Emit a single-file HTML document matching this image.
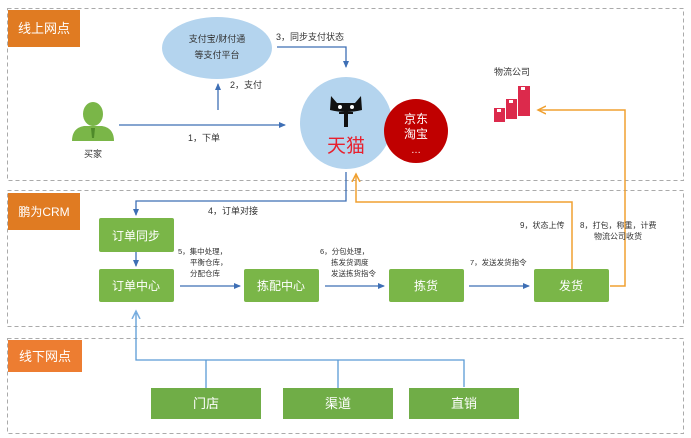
<!DOCTYPE html>
<html><head><meta charset="utf-8"><style>
html,body{margin:0;padding:0;background:#fff;}
svg{display:block;font-family:"Liberation Sans","Noto Sans CJK SC",sans-serif;}
</style></head><body>
<svg width="691" height="438" viewBox="0 0 691 438" xmlns="http://www.w3.org/2000/svg">
<defs>
<marker id="ab" markerWidth="8" markerHeight="8" refX="6" refY="4" orient="auto" markerUnits="userSpaceOnUse"><path d="M0,1 L7,4 L0,7 Z" fill="#3e6fb5"/></marker>
<marker id="ao" markerWidth="10" markerHeight="10" refX="8" refY="5" orient="auto" markerUnits="userSpaceOnUse"><path d="M0,1 L8,5 L0,9" fill="none" stroke="#f0a030" stroke-width="1.5"/></marker>
<marker id="al" markerWidth="10" markerHeight="10" refX="8" refY="5" orient="auto" markerUnits="userSpaceOnUse"><path d="M0,1 L8,5 L0,9" fill="none" stroke="#7aaee0" stroke-width="1.5"/></marker>
</defs>
<g fill="none" stroke="#aaa" stroke-dasharray="4,3" stroke-width="1">
<rect x="7.5" y="8.5" width="676" height="172"/>
<rect x="7.5" y="190.5" width="676" height="136"/>
<rect x="7.5" y="338.5" width="676" height="95"/>
</g>
<rect x="8" y="10" width="72" height="37" fill="#e07b22"/>
<text x="44" y="33" fill="#fff" font-size="13" text-anchor="middle">线上网点</text>
<rect x="8" y="193" width="72" height="37" fill="#e07b22"/>
<text x="44" y="216" fill="#fff" font-size="12" text-anchor="middle">鹏为CRM</text>
<rect x="8" y="340" width="74" height="32" fill="#ed7d31"/>
<text x="45" y="361" fill="#fff" font-size="13" text-anchor="middle">线下网点</text>

<ellipse cx="217" cy="48" rx="55" ry="31" fill="#b4d4ee"/>
<text x="217" y="42" font-size="9" fill="#333" text-anchor="middle">支付宝/财付通</text>
<text x="217" y="58" font-size="9" fill="#333" text-anchor="middle">等支付平台</text>

<g fill="#7ab648">
<ellipse cx="93" cy="114" rx="10" ry="12"/>
<path d="M72,141 Q72,128 84,126 L102,126 Q114,128 114,141 Z"/>
</g>
<path d="M91,128 L95,128 L94,138 L92,138 Z" fill="#4f8a2a"/>
<text x="93" y="157" font-size="9" fill="#333" text-anchor="middle">买家</text>

<g stroke="#3e6fb5" stroke-width="1.3" fill="none">
<line x1="119" y1="125" x2="285" y2="125" marker-end="url(#ab)"/>
<line x1="218" y1="110" x2="218" y2="84" marker-end="url(#ab)"/>
<polyline points="277,47 346,47 346,67" marker-end="url(#ab)"/>
<polyline points="346,172 346,201 136,201 136,215" marker-end="url(#ab)"/>
<line x1="136" y1="252" x2="136" y2="266" marker-end="url(#ab)"/>
<line x1="180" y1="286" x2="240" y2="286" marker-end="url(#ab)"/>
<line x1="325" y1="286" x2="384" y2="286" marker-end="url(#ab)"/>
<line x1="469" y1="286" x2="529" y2="286" marker-end="url(#ab)"/>
</g>
<text x="188" y="141" font-size="9" fill="#333">1，下单</text>
<text x="230" y="88" font-size="9" fill="#333">2，支付</text>
<text x="276" y="40" font-size="9" fill="#333">3，同步支付状态</text>
<text x="208" y="214" font-size="9" fill="#333">4，订单对接</text>

<circle cx="346" cy="123" r="46" fill="#b4d4ee"/>
<g fill="#111">
<path d="M331,96 L337,103 L355,103 L361,96 L362,110 Q346,114 330,110 Z"/>
<rect x="344" y="111" width="4" height="16"/>
<rect x="339" y="112" width="14" height="2"/>
</g>
<g fill="#fff"><circle cx="340" cy="107" r="2"/><circle cx="352" cy="107" r="2"/></g>
<text x="346" y="152" font-size="19" fill="#e8202e" text-anchor="middle">天猫</text>
<circle cx="416" cy="131" r="32" fill="#c00000"/>
<text x="416" y="123" font-size="12" fill="#fff" text-anchor="middle">京东</text>
<text x="416" y="138" font-size="12" fill="#fff" text-anchor="middle">淘宝</text>
<text x="416" y="153" font-size="10" fill="#fff" text-anchor="middle">…</text>

<text x="512" y="75" font-size="9" fill="#333" text-anchor="middle">物流公司</text>
<g fill="#dc2a4c">
<rect x="494" y="108" width="11" height="14"/>
<rect x="506" y="99" width="11" height="20"/>
<rect x="518" y="86" width="12" height="30"/>
</g>
<g fill="#fff"><rect x="497" y="109" width="4" height="3"/><rect x="509" y="100" width="4" height="3"/><rect x="521" y="87" width="4" height="3"/></g>

<g stroke="#f0a030" stroke-width="1.5" fill="none">
<polyline points="610,286 625,286 625,110 538,110" marker-end="url(#ao)"/>
<polyline points="572,270 572,202 356,202 356,174" marker-end="url(#ao)"/>
</g>
<text x="520" y="228" font-size="8" fill="#333">9，状态上传</text>
<text x="580" y="228" font-size="8" fill="#333">8，打包，称重，计费</text>
<text x="594" y="239" font-size="8" fill="#333">物流公司收货</text>

<g font-size="7.5" fill="#333">
<text x="178" y="254">5，集中处理，</text>
<text x="190" y="265">平衡仓库，</text>
<text x="190" y="276">分配仓库</text>
<text x="320" y="254">6，分包处理，</text>
<text x="331" y="265">拣发货调度</text>
<text x="331" y="276">发送拣货指令</text>
<text x="470" y="265">7，发送发货指令</text>
</g>

<g fill="#7ab648">
<rect x="99" y="218" width="75" height="34" rx="2"/>
<rect x="99" y="269" width="75" height="33" rx="2"/>
<rect x="244" y="269" width="75" height="33" rx="2"/>
<rect x="389" y="269" width="75" height="33" rx="2"/>
<rect x="534" y="269" width="75" height="33" rx="2"/>
</g>
<g fill="#fff" font-size="12" text-anchor="middle">
<text x="136" y="290">订单中心</text>
<text x="136" y="240">订单同步</text>
<text x="281" y="290">拣配中心</text>
<text x="426" y="290">拣货</text>
<text x="571" y="290">发货</text>
</g>

<g stroke="#5b9bd5" stroke-width="1.3" fill="none">
<polyline points="464,387 464,360 136,360 136,311" marker-end="url(#al)"/>
<line x1="206" y1="360" x2="206" y2="388"/>
<line x1="338" y1="360" x2="338" y2="388"/>
</g>
<g fill="#70ad47">
<rect x="151" y="388" width="110" height="31"/>
<rect x="283" y="388" width="110" height="31"/>
<rect x="409" y="388" width="110" height="31"/>
</g>
<g fill="#fff" font-size="13" text-anchor="middle">
<text x="206" y="408">门店</text>
<text x="338" y="408">渠道</text>
<text x="464" y="408">直销</text>
</g>
</svg>
</body></html>
